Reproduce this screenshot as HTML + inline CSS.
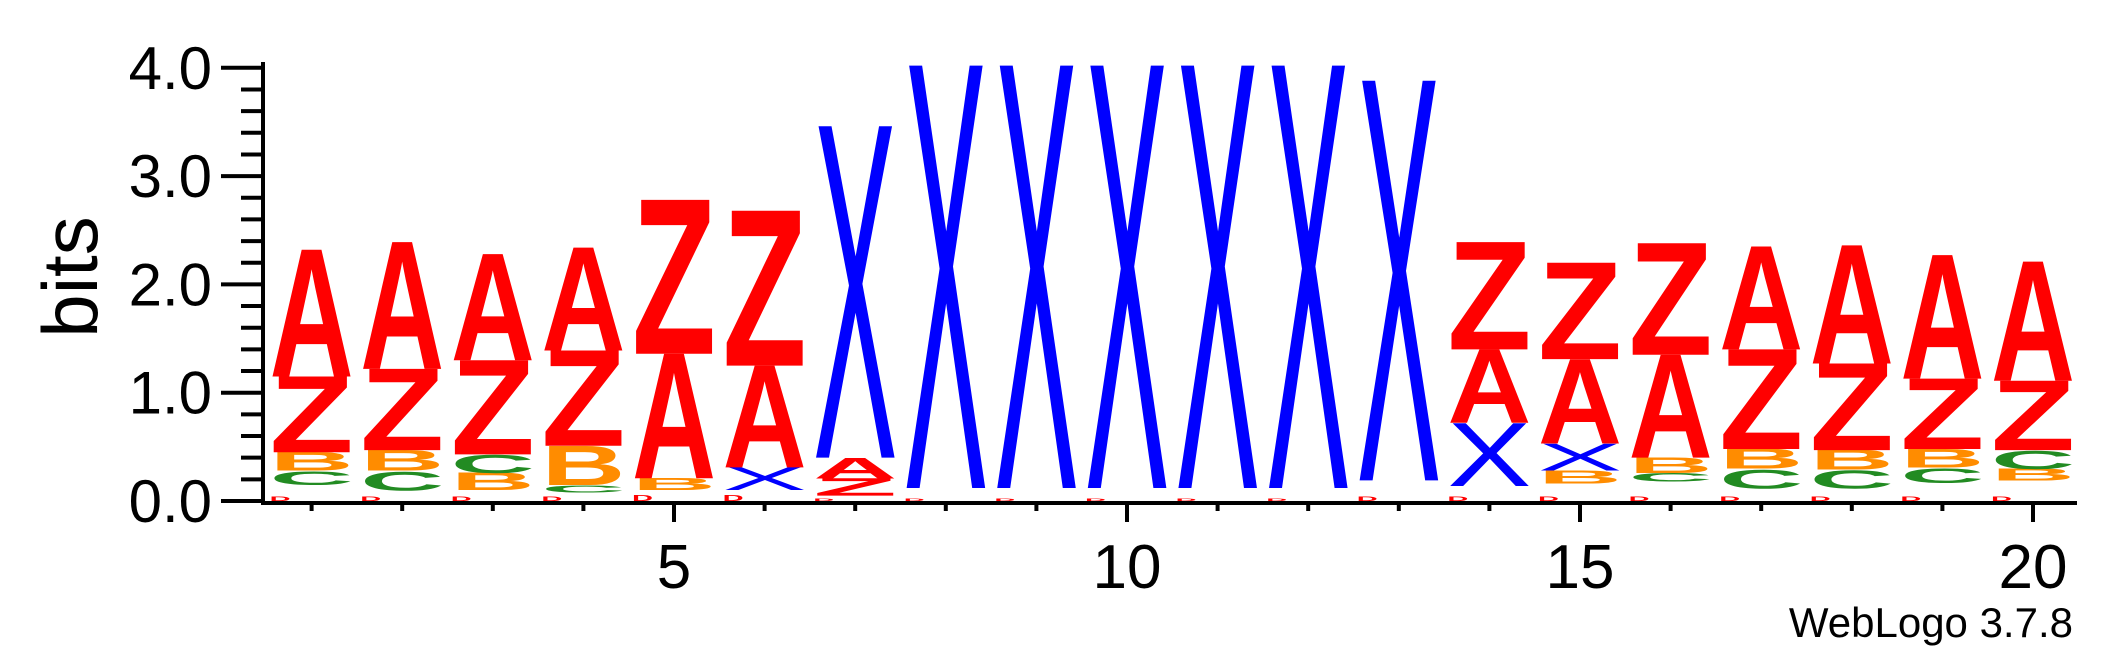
<!DOCTYPE html>
<html><head><meta charset="utf-8"><style>
html,body{margin:0;padding:0;background:#fff;}
svg{display:block;font-family:"Liberation Sans",sans-serif;}
</style></head><body>
<svg id="chart" width="2117" height="667" viewBox="0 0 2117 667" xmlns="http://www.w3.org/2000/svg"></svg>
<script>
const positions = [1,2,3,4,5,6,7,8,9,10,11,12,13,14,15,16,17,18,19,20];
// "_" marks an empty gap (not drawn)
const stackLetters = [
 ["D","_","C","B","Z","A"],["D","_","C","B","Z","A"],["D","_","B","C","Z","A"],["D","_","C","B","Z","A"],
 ["D","_","B","A","Z"],["D","_","X","A","Z"],["D","_","Z","A","X"],["D","_","X"],["D","_","X"],["D","_","X"],
 ["D","_","X"],["D","_","X"],["D","_","X"],["D","_","X","A","Z"],["D","_","B","X","A","Z"],["D","_","C","B","A","Z"],
 ["D","_","C","B","Z","A"],["D","_","C","B","Z","A"],["D","_","C","B","Z","A"],["D","_","B","C","Z","A"]
];
const stackHeights = [
 [0.04,0.11,0.13,0.17,0.70,1.17],[0.04,0.06,0.18,0.19,0.75,1.17],[0.04,0.06,0.16,0.17,0.87,0.98],[0.04,0.04,0.07,0.36,0.88,0.95],
 [0.05,0.05,0.11,1.15,1.42],[0.05,0.05,0.21,0.94,1.43],[0.02,0.03,0.16,0.19,3.06],[0.02,0.10,3.90],[0.02,0.10,3.90],[0.02,0.10,3.90],
 [0.02,0.10,3.90],[0.02,0.10,3.90],[0.04,0.15,3.69],[0.04,0.10,0.58,0.68,0.99],[0.04,0.12,0.12,0.25,0.78,0.89],[0.04,0.14,0.08,0.14,0.95,1.03],
 [0.04,0.08,0.18,0.18,0.92,0.95],[0.04,0.08,0.17,0.18,0.80,1.09],[0.04,0.13,0.14,0.17,0.65,1.14],[0.04,0.15,0.11,0.17,0.64,1.10]
];
const yTicks = [0,1,2,3,4];
const yTickLabels = ["0.0","1.0","2.0","3.0","4.0"];
const xTickLabels = [5,10,15,20];

const svg = document.getElementById('chart');
const NS = 'http://www.w3.org/2000/svg';
const y0 = 501, bitPx = 108.3;
const yScale = v => y0 - v * bitPx;
const xScale = p => 674 + (p - 5) * 90.6;
const colW = 84;
const colors = {A:"#ff0000",Z:"#ff0000",D:"#ff0000",X:"#0000ff",B:"#ff8c00",C:"#228b22"};
function mk(tag, attrs){const e=document.createElementNS(NS,tag);for(const k in attrs)e.setAttribute(k,attrs[k]);svg.appendChild(e);return e;}

positions.forEach((p,i)=>{
  let base = 0;
  stackLetters[i].forEach((L,j)=>{
    const h = stackHeights[i][j];
    if(L!=="_"){
      const yb = yScale(base), hp = h*bitPx;
      const capH = (L==="C")?72:68.8;
      const small = (L==="D");
      const w = small?colW*0.25:colW;
      const t = mk('text',{x:0,y:(L==="C"?1.5:0),'font-size':100,'font-weight':(L==="X"?'normal':'bold'),fill:colors[L],
        textLength:w,lengthAdjust:'spacingAndGlyphs',
        transform:`translate(${xScale(p)-colW/2},${yb}) scale(1,${hp/capH})`});
      t.textContent = L;
      
      
    }
    base += h;
  });
});

let ax = mk('line',{x1:263,y1:62,x2:263,y2:y0+2,stroke:'#000','stroke-width':4});


for(let k=0;k<=20;k++){
  const v=k*0.2, major=(k%5===0);
  const tk = mk('line',{x1:major?221:241,y1:yScale(v),x2:263,y2:yScale(v),stroke:'#000','stroke-width':4});
  
  
}
yTicks.forEach((v,i)=>{
  const t = mk('text',{x:212,y:yScale(v)+21,'font-size':60,'text-anchor':'end',fill:'#000'});
  t.textContent = yTickLabels[i];
  
  
});
const yt = mk('text',{x:0,y:0,'font-size':78,'text-anchor':'middle',fill:'#000',transform:'translate(97,277) rotate(-90)'});
yt.textContent='bits';



let xa = mk('line',{x1:261,y1:y0+2,x2:2077,y2:y0+2,stroke:'#000','stroke-width':4});


positions.forEach(p=>{
  const major = xTickLabels.includes(p);
  const tk = mk('line',{x1:xScale(p),y1:y0+2,x2:xScale(p),y2:major?522:511,stroke:'#000','stroke-width':4});
  
  
});
xTickLabels.forEach(p=>{
  const t = mk('text',{x:xScale(p),y:588,'font-size':62,'text-anchor':'middle',fill:'#000'});
  t.textContent = p;
  
  
});
const wl = mk('text',{x:2073,y:637,'font-size':42,'text-anchor':'end',fill:'#000'});
wl.textContent='WebLogo 3.7.8';


</script>
</body></html>
